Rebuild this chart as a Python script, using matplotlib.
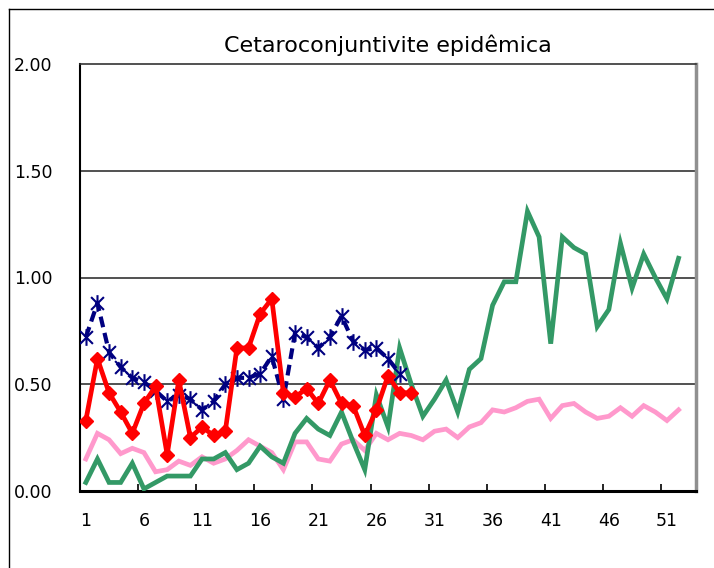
import numpy as np
import matplotlib
matplotlib.use("Agg")
import matplotlib.pyplot as plt
from matplotlib.path import Path
from matplotlib.lines import Line2D

# weekly values
weeks = list(range(1, 53))
blue = [0.72, 0.88, 0.65, 0.58, 0.53, 0.51, 0.47, 0.42, 0.45, 0.43,
        0.38, 0.42, 0.50, 0.53, 0.53, 0.55, 0.63, 0.43, 0.74, 0.72,
        0.67, 0.72, 0.82, 0.70, 0.66, 0.67, 0.62, 0.55]
red = [0.33, 0.62, 0.46, 0.37, 0.27, 0.41, 0.49, 0.17, 0.52, 0.25,
       0.30, 0.26, 0.28, 0.67, 0.67, 0.83, 0.90, 0.46, 0.44, 0.48,
       0.41, 0.52, 0.41, 0.40, 0.26, 0.38, 0.54, 0.46, 0.46]
green = [0.04, 0.15, 0.04, 0.04, 0.13, 0.01, 0.04, 0.07, 0.07, 0.07,
         0.15, 0.15, 0.18, 0.10, 0.13, 0.21, 0.16, 0.13, 0.27, 0.34,
         0.29, 0.26, 0.37, 0.23, 0.10, 0.45, 0.30, 0.67, 0.50, 0.35,
         0.43, 0.52, 0.37, 0.57, 0.62, 0.87, 0.98, 0.98, 1.31, 1.19,
         0.69, 1.19, 1.14, 1.11, 0.77, 0.85, 1.16, 0.95, 1.11, 1.00,
         0.90, 1.09]
pink = [0.15, 0.27, 0.24, 0.175, 0.20, 0.18, 0.09, 0.10, 0.14, 0.12,
        0.16, 0.13, 0.15, 0.19, 0.24, 0.21, 0.18, 0.10, 0.23, 0.23,
        0.15, 0.14, 0.22, 0.24, 0.19, 0.27, 0.24, 0.27, 0.26, 0.24,
        0.28, 0.29, 0.25, 0.30, 0.32, 0.38, 0.37, 0.39, 0.42, 0.43,
        0.34, 0.40, 0.41, 0.37, 0.34, 0.35, 0.39, 0.35, 0.40, 0.37,
        0.33, 0.38]
tick_weeks = [1, 6, 11, 16, 21, 26, 31, 36, 41, 46, 51]
y_ticks = [0.0, 0.5, 1.0, 1.5, 2.0]
title = "Cetaroconjuntivite epidêmica"

# asterisk marker like excel's
star = Path([(-1, -1), (1, 1), (-1, 1), (1, -1), (0, -1.3), (0, 1.3)],
            [Path.MOVETO, Path.LINETO, Path.MOVETO, Path.LINETO,
             Path.MOVETO, Path.LINETO])

plt.rcParams['font.family'] = ['DejaVu Sans']

W, H = 714, 568
fig = plt.figure(figsize=(W / 100, H / 100), dpi=100)
left, right, top, bottom = 80, 696, 64, 491
ax = fig.add_axes([left / W, 1 - bottom / H, (right - left) / W, (bottom - top) / H])

ax.plot(weeks, pink, color='#FF99CC', lw=3.4, zorder=2, solid_joinstyle='miter')
ax.plot(weeks, green, color='#339966', lw=3.4, zorder=3, solid_joinstyle='miter')
ax.plot(weeks[:len(blue)], blue, color='#000080', lw=3, dashes=(2.6, 1.4),
        marker=star, markersize=12, markeredgewidth=1.5, zorder=4)
ax.plot(weeks[:len(red)], red, color='#FF0000', lw=3.4, marker='D',
        markersize=7.5, zorder=5)

ax.set_xlim(0.5, 53.5)
ax.set_ylim(0, 2.0)
ax.set_yticks(y_ticks)
ax.set_yticklabels([f"{v:.2f}" for v in y_ticks], fontsize=12.5)
ax.set_xticks(tick_weeks)
ax.set_xticklabels([str(w) for w in tick_weeks], fontsize=12.5)
ax.set_xticks(np.array(tick_weeks) - 0.5, minor=True)
ax.tick_params(axis='x', which='major', length=0, pad=15)
ax.tick_params(axis='x', which='minor', direction='in', length=5, width=1.2)
ax.tick_params(axis='y', length=0, pad=20)

for v in y_ticks[1:-1]:
    ax.axhline(v, color='#333333', lw=1.2, zorder=1)

ax.spines['left'].set_linewidth(1.5)
ax.spines['bottom'].set_linewidth(2.2)
ax.spines['top'].set_color('#333333')
ax.spines['top'].set_linewidth(1.2)
ax.spines['right'].set_color('#909090')
ax.spines['right'].set_linewidth(2.5)

ax.set_title(title, fontsize=16, pad=8.6)

# outer chart border (only top and left visible)
fig.add_artist(Line2D([9 / W, 1], [1 - 9 / H, 1 - 9 / H], color='black', lw=1))
fig.add_artist(Line2D([9 / W, 9 / W], [0, 1 - 9 / H], color='black', lw=1))

fig.savefig("out.png", dpi=100)
